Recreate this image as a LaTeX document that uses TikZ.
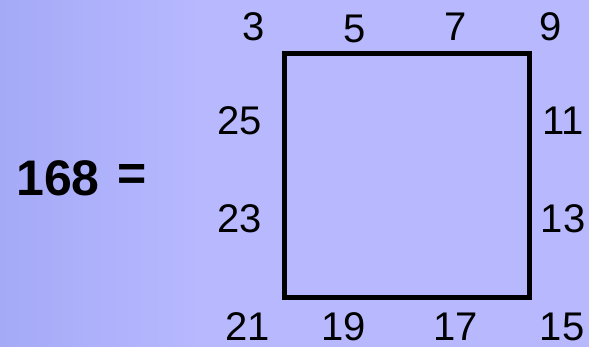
\documentclass[tikz,border=0pt]{standalone}
\usepackage{fontspec}
\setmainfont{Liberation Sans}
\definecolor{bgleft}{HTML}{A5AAF7}
\definecolor{bgmid}{HTML}{B7B8FE}
\tikzset{
  num/.style={inner sep=0pt, font=\fontsize{40}{48}\selectfont},
  total/.style={inner sep=0pt, font=\fontsize{50}{60}\selectfont\bfseries}
}
\begin{document}
\begin{tikzpicture}[x=1pt, y=-1pt]
 \useasboundingbox (0,0) rectangle (589,347);
 \fill[left color=bgleft, right color=bgmid] (0,0) rectangle (200,347);
 \fill[bgmid] (199.5,0) rectangle (589,347);
 \begin{scope}
 \draw[black, line width=5pt] (284.5,53.5) rectangle (529,297.5);
 \node[total] (sum) at (58,178) {168};
 \node[total] (eq) at (132,178) {=};
 \node[num] (n3) at (254,27) {3};
 \node[num] (n5) at (355,29) {5};
 \node[num] (n7) at (456,27) {7};
 \node[num] (n9) at (551,27) {9};
 \node[num] (n25) at (240,121) {25};
 \node[num] (n23) at (240,219) {23};
 \node[num] (n11) at (563,121) {11};
 \node[num] (n13) at (563,219) {13};
 \node[num] (n21) at (248,327) {21};
 \node[num] (n19) at (344,327) {19};
 \node[num] (n17) at (456,327) {17};
 \node[num] (n15) at (562,327) {15};
 \end{scope}
\end{tikzpicture}
\end{document}
